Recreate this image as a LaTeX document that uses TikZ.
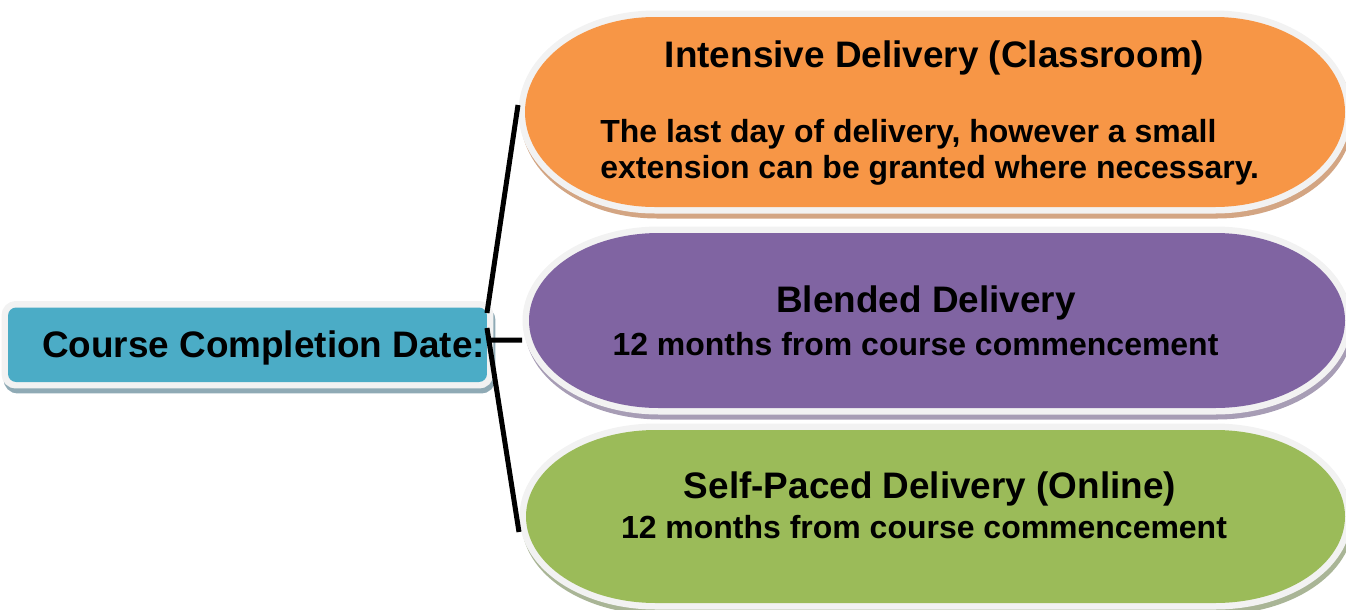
\documentclass[tikz,border=0pt]{standalone}
\usepackage{fontspec}
\setmainfont{Liberation Sans}

\definecolor{rimgrey}{HTML}{F2F2F2}
\definecolor{tealfill}{HTML}{4BACC6}
\definecolor{tealshade}{HTML}{8FAAB5}
\definecolor{orangefill}{HTML}{F79646}
\definecolor{orangeshade}{HTML}{D3A583}
\definecolor{purplefill}{HTML}{8064A2}
\definecolor{purpleshade}{HTML}{A79DB5}
\definecolor{greenfill}{HTML}{9BBB59}
\definecolor{greenshade}{HTML}{A9B596}

\newcommand{\rx}{130}
\newcommand{\pr}{1345}
% pill: name, left, centre y, half height, fill, shade
\newcommand{\pill}[6]{%
  \path[draw=#6, fill=#6, line width=0.26cm, shift={(2,-5)}]
    (#2+\rx,#3+#4) -- (\pr-\rx,#3+#4)
    arc[start angle=90, end angle=-90, x radius=\rx, y radius=#4]
    -- (#2+\rx,#3-#4)
    arc[start angle=270, end angle=90, x radius=\rx, y radius=#4] -- cycle;
  \path[draw=rimgrey, line width=0.26cm, postaction={fill=#5}]
    (#2+\rx,#3+#4) -- (\pr-\rx,#3+#4)
    arc[start angle=90, end angle=-90, x radius=\rx, y radius=#4]
    -- (#2+\rx,#3-#4)
    arc[start angle=270, end angle=90, x radius=\rx, y radius=#4] -- cycle;
  \node[hold, minimum width={(\pr-#2+14)*0.02cm}, minimum height={(2*#4+14)*0.02cm}] (#1) at ({(#2+\pr)/2},#3) {};
}

\begin{document}
\begin{tikzpicture}[x=0.02cm, y=0.02cm,
    hold/.style={draw=none, rectangle, inner sep=0pt, outer sep=0pt},
    datebox/.style={rectangle, draw=rimgrey, line width=0.26cm, rounded corners=0.16cm,
      minimum width=9.58cm, minimum height=1.49cm, inner sep=0pt, outer sep=0pt,
      preaction={draw=tealshade, fill=tealshade, transform canvas={shift={(0.04cm,-0.1cm)}}},
      postaction={fill=tealfill}},
    title/.style={font=\fontsize{21}{25}\selectfont\bfseries, inner sep=0pt, anchor=base},
    body/.style={font=\fontsize{18.2}{21}\selectfont\bfseries, inner sep=0pt},
    link/.style={line width=0.1cm, black}]
    \clip (0,0) rectangle (1346,-609);

    % Delivery pills
    \pill{intensive}{525}{-112}{95}{orangefill}{orangeshade}
    \pill{blended}{529}{-320.5}{87.5}{purplefill}{purpleshade}
    \pill{selfpaced}{526}{-516.5}{86.5}{greenfill}{greenshade}

    % Root box
    \node[datebox] (cdate) at (247.5,-344.75) {};

    % Links
    \draw[link] ([yshift=0.635cm]cdate.east) -- ([yshift=0.14cm]intensive.west);
    \draw[link] ([yshift=0.095cm]cdate.east) -- ([yshift=-0.39cm]blended.west);
    \draw[link] ([yshift=0.335cm]cdate.east) -- ([yshift=-0.31cm]selfpaced.west);

    % Texts
    \node[title] (cdate-text) at (263.5,-357) {Course Completion Date:};
    \node[title] (intensive-title) at (934.5,-67) {Intensive Delivery (Classroom)};
    \node[body, anchor=base west] (intensive-line1) at (600,-142) {The last day of delivery, however a small};
    \node[body, anchor=base west] (intensive-line2) at (600,-178) {extension can be granted where necessary.};
    \node[title] (blended-title) at (926,-312) {Blended Delivery};
    \node[body, anchor=base] (blended-line) at (915.5,-355) {12 months from course commencement};
    \node[title] (selfpaced-title) at (930,-498) {Self-Paced Delivery (Online)};
    \node[body, anchor=base] (selfpaced-line) at (924,-538) {12 months from course commencement};
\end{tikzpicture}
\end{document}
